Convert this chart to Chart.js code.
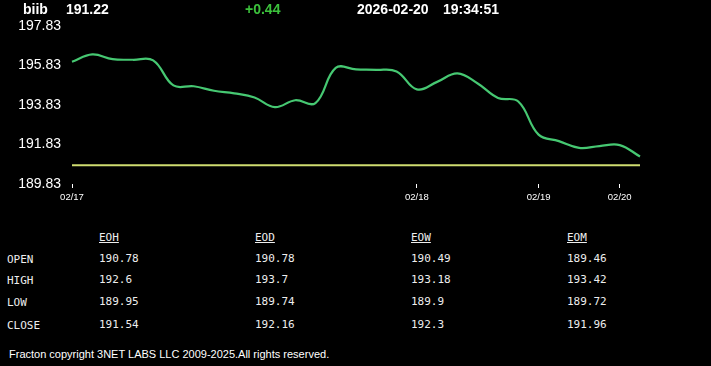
<!DOCTYPE html>
<html>
<head>
<meta charset="utf-8">
<script src="https://cdn.jsdelivr.net/npm/chart.js@4.4.1/dist/chart.umd.min.js"></script>
<style>
  body { margin: 0; background: #000; width: 711px; height: 366px; overflow: hidden; position: relative; }
  .hd { position: absolute; top: 1px; font: bold 14px "Liberation Sans", Arial, sans-serif; color: #fff; }
  #wrap { position: absolute; left: 0; top: 0; width: 711px; height: 210px; }
  .tb { position: absolute; font: 11px "DejaVu Sans Mono", monospace; color: #eee; }
  .u { text-decoration: underline; }
  #foot { position: absolute; left: 9px; top: 348px; font: 11px "Liberation Sans", Arial, sans-serif; color: #fff; }
</style>
</head>
<body>
<div id="wrap"><canvas id="priceChart" width="711" height="210"></canvas></div>
<div id="header"></div>
<div id="table"></div>
<div id="foot">Fracton copyright 3NET LABS LLC 2009-2025.All rights reserved.</div>
<script>
// header
var symbol = 'biib';
var lastPrice = '191.22';
var change = '+0.44';
var stampDate = '2026-02-20';
var stampTime = '19:34:51';

// chart data, one point per slot
var dateLabels = ['02/17', '', '', '', '', '', '', '', '', '', '', '', '', '', '', '', '',
  '02/18', '', '', '', '', '', '02/19', '', '', '', '02/20', ''];
var prices = [196.02, 196.39, 196.15, 196.12, 196.09, 194.82, 194.78, 194.55, 194.42, 194.21,
  193.72, 194.07, 193.93, 195.71, 195.63, 195.61, 195.53, 194.62, 195.00, 195.43,
  194.92, 194.19, 194.01, 192.33, 192.00, 191.66, 191.75, 191.80, 191.22];
var openLevel = 190.78;
var yTicks = [189.83, 191.83, 193.83, 195.83, 197.83];

// stats table
var statCols = ['EOH', 'EOD', 'EOW', 'EOM'];
var statRows = ['OPEN', 'HIGH', 'LOW', 'CLOSE'];
var statVals = [
  ['190.78', '190.78', '190.49', '189.46'],
  ['192.6', '193.7', '193.18', '193.42'],
  ['189.95', '189.74', '189.9', '189.72'],
  ['191.54', '192.16', '192.3', '191.96']
];

function put(parent, cls, text, x, y, color) {
  var d = document.createElement('div');
  d.className = cls;
  d.textContent = text;
  d.style.left = x + 'px';
  d.style.top = y + 'px';
  if (color) d.style.color = color;
  parent.appendChild(d);
}

var hd = document.getElementById('header');
put(hd, 'hd', symbol, 23, 1);
put(hd, 'hd', lastPrice, 66, 1);
put(hd, 'hd', change, 245, 1, '#3cc23c');
put(hd, 'hd', stampDate, 357, 1);
put(hd, 'hd', stampTime, 443, 1);

var tb = document.getElementById('table');
var colX = [99, 255, 411, 567];
var rowY = [266, 287, 309, 332];
statCols.forEach(function (c, i) { put(tb, 'tb u', c, colX[i], 231); });
statRows.forEach(function (r, j) {
  put(tb, 'tb', r, 7, rowY[j] - 13);
  statVals[j].forEach(function (v, i) { put(tb, 'tb', v, colX[i], rowY[j] - 14); });
});

var openLine = prices.map(function () { return openLevel; });

new Chart(document.getElementById('priceChart'), {
  type: 'line',
  data: {
    labels: dateLabels,
    datasets: [{
      data: prices,
      borderColor: '#46c872',
      borderWidth: 2.2,
      tension: 0.4,
      pointRadius: 0
    }, {
      data: openLine,
      borderColor: '#cfdc70',
      borderWidth: 2,
      tension: 0,
      pointRadius: 0
    }]
  },
  options: {
    responsive: false,
    animation: false,
    layout: { padding: { left: 0, right: 71, top: 26, bottom: 0 } },
    plugins: { legend: { display: false }, tooltip: { enabled: false } },
    scales: {
      x: {
        offset: false,
        border: { display: false },
        grid: {
          drawOnChartArea: false,
          tickLength: 4,
          tickColor: function (ctx) { return dateLabels[ctx.index] ? '#fff' : 'rgba(0,0,0,0)'; }
        },
        ticks: {
          autoSkip: false,
          maxRotation: 0,
          padding: 4,
          color: '#fff',
          font: { family: 'Liberation Sans', size: 9.5 }
        },
        afterFit: function (s) { s.height = 26; }
      },
      y: {
        min: 189.83,
        max: 197.83,
        border: { display: false },
        grid: { display: false, drawTicks: false },
        afterBuildTicks: function (s) { s.ticks = yTicks.map(function (v) { return { value: v }; }); },
        ticks: {
          padding: 11,
          color: '#fff',
          font: { family: 'Liberation Sans', size: 14 },
          callback: function (v) { return v.toFixed(2); }
        },
        afterFit: function (s) { s.width = 72; }
      }
    }
  }
});
</script>
</body>
</html>
